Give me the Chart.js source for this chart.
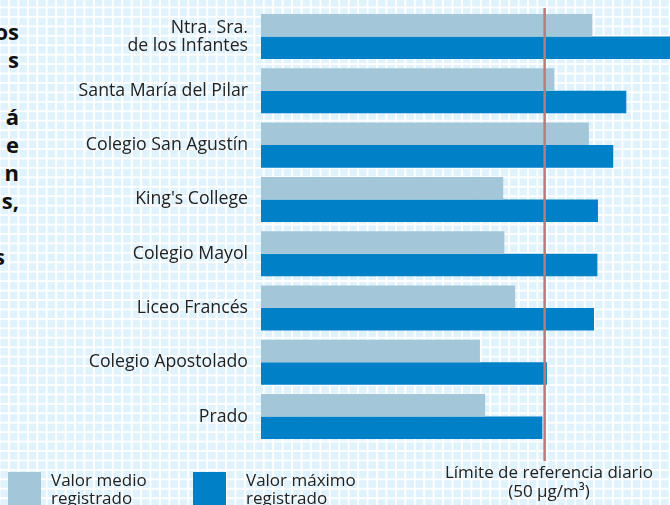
<!DOCTYPE html>
<html lang="es">
<head>
<meta charset="utf-8">
<script src="https://cdn.jsdelivr.net/npm/chart.js@4"></script>
<style>
    html, body { margin: 0; padding: 0; }
    #wrap {
        position: relative;
        width: 670px;
        height: 505px;
        overflow: hidden;
        background-color: #e0f2fb;
        background-image:
            linear-gradient(90deg, #fff 1.5px, transparent 1.5px),
            linear-gradient(180deg, #fff 1.5px, transparent 1.5px);
        background-size: 9.45px 9.45px;
        background-position: 8px 6.5px;
        font-family: "Open Sans", sans-serif;
        color: #222;
    }
    #chart { position: absolute; left: 0; top: 0; }
    .side {
        position: absolute;
        right: 651px;
        top: 17px;
        text-align: right;
        font-weight: bold;
        font-size: 22px;
        line-height: 28.2px;
        color: #111;
        white-space: pre;
    }
    .side2 {
        position: absolute;
        right: 665px;
        top: 242px;
        font-weight: bold;
        font-size: 22px;
        line-height: 28px;
        color: #111;
    }
    .legend-box { position: absolute; width: 33px; height: 40px; }
    .legend-text { position: absolute; font-size: 17px; line-height: 18px; }
    .limit-text {
        position: absolute; left: 409px; width: 280px; top: 462px;
        text-align: center; font-size: 17px; line-height: 19px;
    }
</style>
</head>
<body>
<div id="wrap">
    <div class="side">os
s

á
e
n
s,</div>
    <div class="side2">s</div>
    <canvas id="chart" width="670" height="505"></canvas>
    <div class="legend-box" id="box0" style="left:8px; top:472px;"></div>
    <div class="legend-text" id="lab0" style="left:51px; top:471px;"></div>
    <div class="legend-box" id="box1" style="left:193px; top:472px;"></div>
    <div class="legend-text" id="lab1" style="left:246px; top:471px;"></div>
    <div class="limit-text">Límite de referencia diario<br>(50 µg/m³)</div>
</div>
<script>
const categories = [
    ["Ntra. Sra.", "de los Infantes"],
    "Santa María del Pilar",
    "Colegio San Agustín",
    "King's College",
    "Colegio Mayol",
    "Liceo Francés",
    "Colegio Apostolado",
    "Prado"
];
const valorMedio = [58.4, 51.7, 57.8, 42.7, 42.9, 44.8, 38.6, 39.5];
const valorMaximo = [75, 64.4, 62.1, 59.4, 59.3, 58.7, 50.4, 49.6];
const limiteReferencia = 50;
const seriesLabels = [["Valor medio", "registrado"], ["Valor máximo", "registrado"]];
const seriesColors = ["#a3c7d9", "#0080c6"];

// leyenda en html
seriesLabels.forEach((lab, i) => {
    document.getElementById('box' + i).style.background = seriesColors[i];
    document.getElementById('lab' + i).innerHTML = lab.join('<br>');
});

// linea vertical del limite
const limitLine = {
    id: 'limitLine',
    afterDatasetsDraw(chart) {
        const ctx = chart.ctx;
        const x = chart.scales.x.getPixelForValue(limiteReferencia);
        ctx.save();
        ctx.strokeStyle = '#b97b7b';
        ctx.lineWidth = 2.5;
        ctx.beginPath();
        ctx.moveTo(x, 8);
        ctx.lineTo(x, 461);
        ctx.stroke();
        ctx.restore();
    }
};

new Chart(document.getElementById('chart'), {
    type: 'bar',
    data: {
        labels: categories,
        datasets: [
            { label: seriesLabels[0].join(' '), data: valorMedio, backgroundColor: seriesColors[0] },
            { label: seriesLabels[1].join(' '), data: valorMaximo, backgroundColor: seriesColors[1] }
        ]
    },
    options: {
        indexAxis: 'y',
        responsive: false,
        animation: false,
        categoryPercentage: 0.83,
        barPercentage: 1.0,
        layout: { padding: { top: 9.4, bottom: 61.3, left: 0, right: 0 } },
        plugins: { legend: { display: false }, tooltip: { enabled: false } },
        scales: {
            x: { display: false, min: 0, max: 72.1 },
            y: {
                grid: { display: false, drawTicks: false },
                border: { display: false },
                ticks: {
                    color: '#222',
                    padding: 13,
                    font: { family: 'Open Sans', size: 17.7, lineHeight: 1.02 }
                },
                afterFit(scale) {
                    scale.width = 261;
                    scale.paddingTop = 0;
                    scale.paddingBottom = 0;
                }
            }
        }
    },
    plugins: [limitLine]
});
</script>
</body>
</html>
